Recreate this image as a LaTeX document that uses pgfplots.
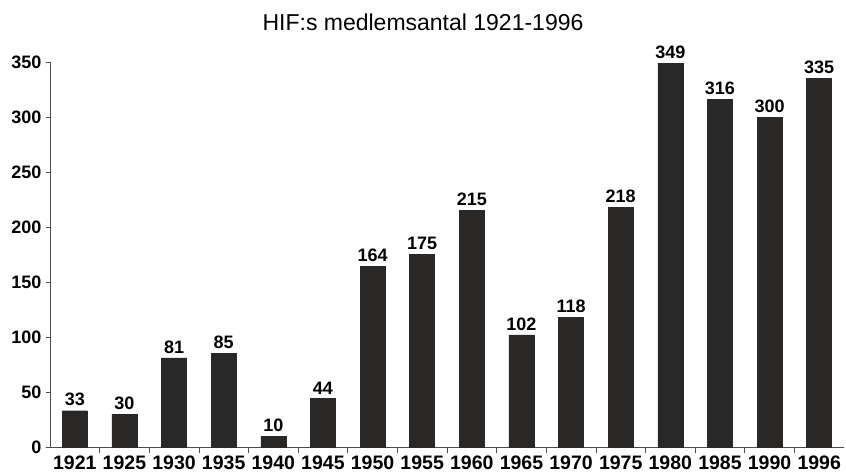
\documentclass[border=0pt]{standalone}
\usepackage{fontspec}
\setmainfont{Liberation Sans}
\usepackage{pgfplots}
\pgfplotsset{compat=1.18}
\definecolor{barc}{HTML}{2A2826}
\begin{document}
\begin{tikzpicture}[x=1pt,y=1pt]
\path[use as bounding box] (-50pt,-28pt) rectangle (796pt,447pt);
\begin{axis}[
  at={(0pt,0pt)}, anchor=south west,
  scale only axis, width=794pt, height=385pt,
  xmin=-0.5, xmax=15.5, ymin=0, ymax=350,
  axis x line=bottom, axis y line=left,
  axis line style={-, draw=black!70, line width=0.6pt},
  xtick=data,
  xticklabels={1921,1925,1930,1935,1940,1945,1950,1955,1960,1965,1970,1975,1980,1985,1990,1996},
  minor xtick={0.5,1.5,...,14.5},
  major x tick style={draw=none},
  minor x tick style={draw=black!70, line width=0.6pt},
  minor tick length=6pt,
  ytick={0,50,...,350},
  y tick style={draw=black!70, line width=0.6pt},
  tick align=outside, major tick length=4pt,
  xticklabel style={font=\fontsize{19.5}{20}\selectfont\bfseries, yshift=-1pt},
  yticklabel style={font=\fontsize{18}{18}\selectfont\bfseries, xshift=-1pt},
  /pgf/number format/assume math mode=true,
  clip=false,
  title={HIF:s medlemsantal 1921-1996},
  title style={font=\fontsize{23}{23}\selectfont, at={(0.5,1)}, yshift=22pt, xshift=-24pt},
  nodes near coords,
  nodes near coords style={font=\fontsize{18}{18}\selectfont\bfseries, yshift=1pt},
]
\addplot[ybar, bar width=25pt, fill=barc, draw=barc] coordinates {
(0,33) (1,30) (2,81) (3,85) (4,10) (5,44) (6,164) (7,175) (8,215) (9,102) (10,118) (11,218) (12,349) (13,316) (14,300) (15,335)};
\end{axis}
\end{tikzpicture}
\end{document}
